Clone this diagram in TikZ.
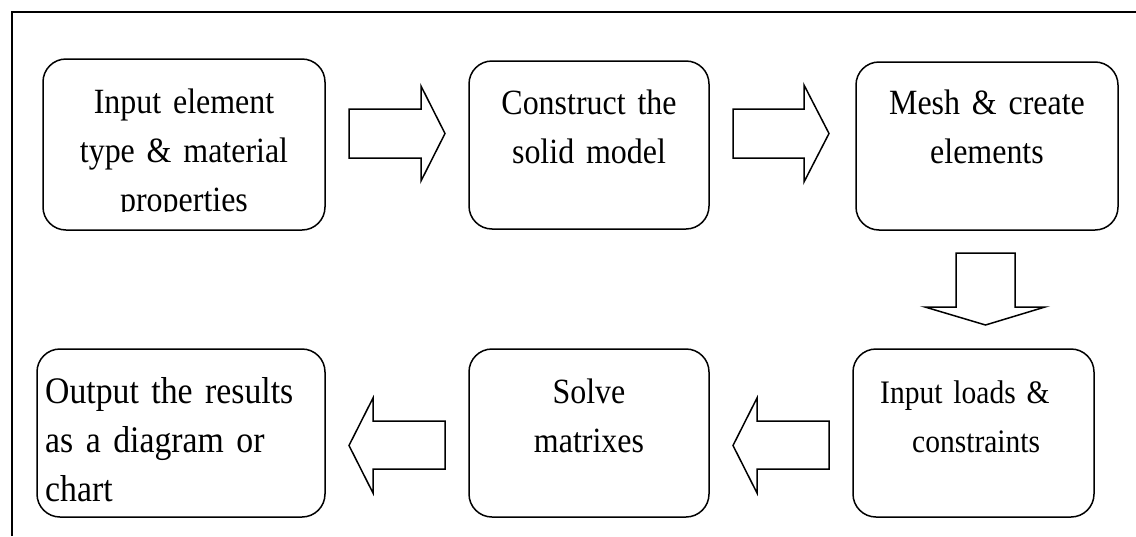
\documentclass[tikz,border=0pt]{standalone}
\usepackage{fontspec}
\setmainfont[FakeStretch=0.9]{Liberation Serif}
\begin{document}
\begin{tikzpicture}[x=1pt,y=-1pt,
  frame/.style={line width=1.8pt},
  box/.style={draw,line width=1.5pt,rounded corners=23pt,inner sep=0pt,outer sep=0pt},
  blk/.style={draw,line width=1.5pt,line join=miter,fill=white},
  txt/.style={inner sep=0pt,anchor=base,align=center,font=\fontsize{35.5}{49}\selectfont},
  ltxt/.style={inner sep=0pt,anchor=base west,align=left},
]
\useasboundingbox (0,0) rectangle (1136,536);
\draw[frame] (12,536) -- (12,12) -- (1136,12);

% boxes
\node[box,minimum width=282pt,minimum height=171pt] (b1) at (184,144.5) {};
\node[box,minimum width=240pt,minimum height=168pt] (b2) at (589,145) {};
\node[box,minimum width=262pt,minimum height=168pt] (b3) at (987,146) {};
\node[box,minimum width=288pt,minimum height=168pt] (b4) at (181,433) {};
\node[box,minimum width=240pt,minimum height=168pt] (b5) at (589,433) {};
\node[box,minimum width=241pt,minimum height=168pt] (b6) at (973.5,433) {};

% texts
\begin{scope}
  \clip (43,59) rectangle (325,211);
  \node[txt,text width=282pt] (t1) at (184,113) {Input element\\type \& material\\properties};
\end{scope}
\node[txt,text width=240pt] (t2) at (589,114) {Construct the\\solid model};
\node[txt,text width=262pt] (t3) at (987,114) {Mesh \& create\\elements};
\node[ltxt,text width=275pt,font=\fontsize{37.5}{49}\selectfont] (t4) at (45,403) {Output the results\\as a diagram or\\chart};
\node[txt,text width=240pt] (t5) at (589,403) {Solve\\matrixes};
\node[ltxt,text width=210pt,font=\fontsize{32.8}{49}\selectfont] (t6) at (880,403) {Input loads \&\\\hspace*{32pt}constraints};

% block arrows
\draw[blk] (349,109) -- (421,109) -- (421,86) -- (445,133.5) -- (421,181) -- (421,158) -- (349,158) -- cycle;
\draw[blk] (733,109) -- (804,109) -- (804,85) -- (829,133.5) -- (804,182) -- (804,158) -- (733,158) -- cycle;
\draw[blk] (956,253) -- (1015,253) -- (1015,307) -- (1045,307) -- (985.5,325) -- (925,307) -- (956,307) -- cycle;
\draw[blk] (829,421) -- (757,421) -- (757,398) -- (733,445.5) -- (757,493) -- (757,469) -- (829,469) -- cycle;
\draw[blk] (445,421) -- (373,421) -- (373,398) -- (349,445.5) -- (373,493) -- (373,469) -- (445,469) -- cycle;
\end{tikzpicture}
\end{document}
